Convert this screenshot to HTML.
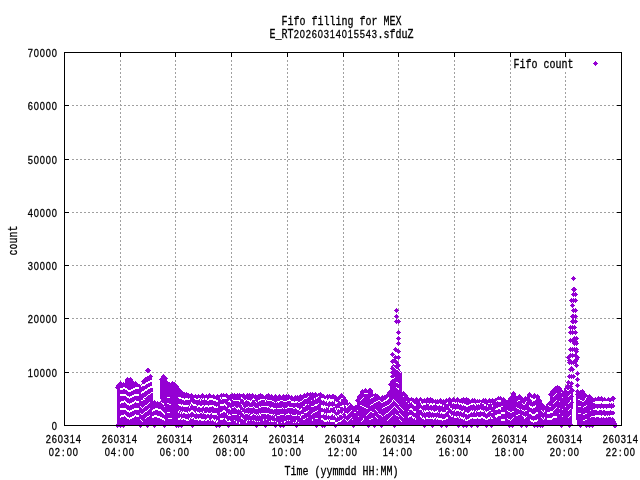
<!DOCTYPE html>
<html><head><meta charset="utf-8"><title>Fifo filling for MEX</title>
<style>html,body{margin:0;padding:0;background:#fff;overflow:hidden}svg{display:block}text{font-size:10px;fill:#000;stroke:#000;stroke-width:.25px}.m{font-family:"Liberation Mono","DejaVu Sans Mono",monospace}.s{font-family:"Liberation Sans","DejaVu Sans",sans-serif;font-size:9.3px}</style>
</head><body>
<svg width="640" height="480" viewBox="0 0 640 480">
<rect width="640" height="480" fill="#fff"/>
<g stroke="#a0a0a0" stroke-width="1" stroke-dasharray="2,2" shape-rendering="crispEdges" fill="none">
<path d="M120.5 60V421"/>
<path d="M175.5 60V421"/>
<path d="M231.5 60V421"/>
<path d="M287.5 60V421"/>
<path d="M343.5 60V421"/>
<path d="M398.5 60V421"/>
<path d="M454.5 60V421"/>
<path d="M510.5 60V421"/>
<path d="M565.5 60V421"/>
<path d="M72 372.5H617"/>
<path d="M72 318.5H617"/>
<path d="M72 265.5H617"/>
<path d="M72 212.5H617"/>
<path d="M72 159.5H617"/>
<path d="M72 105.5H617"/>
</g>
<g stroke="#000" stroke-width="1" shape-rendering="crispEdges" fill="none">
<path d="M120.5 53v4M120.5 425v-4M175.5 53v4M175.5 425v-4M231.5 53v4M231.5 425v-4M287.5 53v4M287.5 425v-4M343.5 53v4M343.5 425v-4M398.5 53v4M398.5 425v-4M454.5 53v4M454.5 425v-4M510.5 53v4M510.5 425v-4M565.5 53v4M565.5 425v-4M65 372.5h4M621 372.5h-4M65 318.5h4M621 318.5h-4M65 265.5h4M621 265.5h-4M65 212.5h4M621 212.5h-4M65 159.5h4M621 159.5h-4M65 105.5h4M621 105.5h-4"/>
</g>
<path fill="#9400d3" shape-rendering="crispEdges" d="M117.5 385l2.5 2.5l-2.5 2.5l-2.5-2.5zM118.5 383l2.5 2.5l-2.5 2.5l-2.5-2.5zM120.5 381l2.5 2.5l-2.5 2.5l-2.5-2.5zM123.5 382l2.5 2.5l-2.5 2.5l-2.5-2.5zM127.5 377l2.5 2.5l-2.5 2.5l-2.5-2.5zM130.5 377l2.5 2.5l-2.5 2.5l-2.5-2.5zM133.5 381l2.5 2.5l-2.5 2.5l-2.5-2.5zM135.5 381l2.5 2.5l-2.5 2.5l-2.5-2.5zM137.5 383l2.5 2.5l-2.5 2.5l-2.5-2.5zM139.5 384l2.5 2.5l-2.5 2.5l-2.5-2.5zM141.5 384l2.5 2.5l-2.5 2.5l-2.5-2.5zM143.5 379l2.5 2.5l-2.5 2.5l-2.5-2.5zM145.5 377l2.5 2.5l-2.5 2.5l-2.5-2.5zM147.5 376l2.5 2.5l-2.5 2.5l-2.5-2.5zM149.5 375l2.5 2.5l-2.5 2.5l-2.5-2.5zM150.5 374l2.5 2.5l-2.5 2.5l-2.5-2.5zM154.5 400l2.5 2.5l-2.5 2.5l-2.5-2.5zM157.5 401l2.5 2.5l-2.5 2.5l-2.5-2.5zM159.5 402l2.5 2.5l-2.5 2.5l-2.5-2.5zM161.5 377l2.5 2.5l-2.5 2.5l-2.5-2.5zM163.5 374l2.5 2.5l-2.5 2.5l-2.5-2.5zM165.5 376l2.5 2.5l-2.5 2.5l-2.5-2.5zM166.5 380l2.5 2.5l-2.5 2.5l-2.5-2.5zM168.5 383l2.5 2.5l-2.5 2.5l-2.5-2.5zM169.5 382l2.5 2.5l-2.5 2.5l-2.5-2.5zM172.5 381l2.5 2.5l-2.5 2.5l-2.5-2.5zM174.5 382l2.5 2.5l-2.5 2.5l-2.5-2.5zM176.5 384l2.5 2.5l-2.5 2.5l-2.5-2.5zM178.5 387l2.5 2.5l-2.5 2.5l-2.5-2.5zM180.5 389l2.5 2.5l-2.5 2.5l-2.5-2.5zM182.5 391l2.5 2.5l-2.5 2.5l-2.5-2.5zM184.5 392l2.5 2.5l-2.5 2.5l-2.5-2.5zM186.5 392l2.5 2.5l-2.5 2.5l-2.5-2.5zM188.5 393l2.5 2.5l-2.5 2.5l-2.5-2.5zM191.5 393l2.5 2.5l-2.5 2.5l-2.5-2.5zM195.5 394l2.5 2.5l-2.5 2.5l-2.5-2.5zM198.5 394l2.5 2.5l-2.5 2.5l-2.5-2.5zM202.5 393l2.5 2.5l-2.5 2.5l-2.5-2.5zM206.5 394l2.5 2.5l-2.5 2.5l-2.5-2.5zM209.5 393l2.5 2.5l-2.5 2.5l-2.5-2.5zM213.5 394l2.5 2.5l-2.5 2.5l-2.5-2.5zM217.5 394l2.5 2.5l-2.5 2.5l-2.5-2.5zM221.5 393l2.5 2.5l-2.5 2.5l-2.5-2.5zM223.5 393l2.5 2.5l-2.5 2.5l-2.5-2.5zM226.5 393l2.5 2.5l-2.5 2.5l-2.5-2.5zM230.5 394l2.5 2.5l-2.5 2.5l-2.5-2.5zM232.5 393l2.5 2.5l-2.5 2.5l-2.5-2.5zM234.5 393l2.5 2.5l-2.5 2.5l-2.5-2.5zM237.5 393l2.5 2.5l-2.5 2.5l-2.5-2.5zM239.5 393l2.5 2.5l-2.5 2.5l-2.5-2.5zM241.5 394l2.5 2.5l-2.5 2.5l-2.5-2.5zM243.5 393l2.5 2.5l-2.5 2.5l-2.5-2.5zM247.5 393l2.5 2.5l-2.5 2.5l-2.5-2.5zM249.5 393l2.5 2.5l-2.5 2.5l-2.5-2.5zM252.5 393l2.5 2.5l-2.5 2.5l-2.5-2.5zM255.5 394l2.5 2.5l-2.5 2.5l-2.5-2.5zM258.5 394l2.5 2.5l-2.5 2.5l-2.5-2.5zM260.5 393l2.5 2.5l-2.5 2.5l-2.5-2.5zM262.5 394l2.5 2.5l-2.5 2.5l-2.5-2.5zM266.5 394l2.5 2.5l-2.5 2.5l-2.5-2.5zM268.5 393l2.5 2.5l-2.5 2.5l-2.5-2.5zM271.5 394l2.5 2.5l-2.5 2.5l-2.5-2.5zM275.5 394l2.5 2.5l-2.5 2.5l-2.5-2.5zM279.5 394l2.5 2.5l-2.5 2.5l-2.5-2.5zM283.5 394l2.5 2.5l-2.5 2.5l-2.5-2.5zM286.5 394l2.5 2.5l-2.5 2.5l-2.5-2.5zM288.5 394l2.5 2.5l-2.5 2.5l-2.5-2.5zM291.5 395l2.5 2.5l-2.5 2.5l-2.5-2.5zM295.5 395l2.5 2.5l-2.5 2.5l-2.5-2.5zM297.5 395l2.5 2.5l-2.5 2.5l-2.5-2.5zM300.5 394l2.5 2.5l-2.5 2.5l-2.5-2.5zM304.5 393l2.5 2.5l-2.5 2.5l-2.5-2.5zM306.5 393l2.5 2.5l-2.5 2.5l-2.5-2.5zM307.5 392l2.5 2.5l-2.5 2.5l-2.5-2.5zM310.5 392l2.5 2.5l-2.5 2.5l-2.5-2.5zM312.5 392l2.5 2.5l-2.5 2.5l-2.5-2.5zM315.5 392l2.5 2.5l-2.5 2.5l-2.5-2.5zM318.5 393l2.5 2.5l-2.5 2.5l-2.5-2.5zM320.5 392l2.5 2.5l-2.5 2.5l-2.5-2.5zM323.5 394l2.5 2.5l-2.5 2.5l-2.5-2.5zM327.5 394l2.5 2.5l-2.5 2.5l-2.5-2.5zM329.5 394l2.5 2.5l-2.5 2.5l-2.5-2.5zM332.5 394l2.5 2.5l-2.5 2.5l-2.5-2.5zM333.5 394l2.5 2.5l-2.5 2.5l-2.5-2.5zM335.5 395l2.5 2.5l-2.5 2.5l-2.5-2.5zM337.5 398l2.5 2.5l-2.5 2.5l-2.5-2.5zM339.5 395l2.5 2.5l-2.5 2.5l-2.5-2.5zM341.5 393l2.5 2.5l-2.5 2.5l-2.5-2.5zM343.5 395l2.5 2.5l-2.5 2.5l-2.5-2.5zM345.5 398l2.5 2.5l-2.5 2.5l-2.5-2.5zM349.5 402l2.5 2.5l-2.5 2.5l-2.5-2.5zM352.5 405l2.5 2.5l-2.5 2.5l-2.5-2.5zM355.5 405l2.5 2.5l-2.5 2.5l-2.5-2.5zM356.5 405l2.5 2.5l-2.5 2.5l-2.5-2.5zM357.5 398l2.5 2.5l-2.5 2.5l-2.5-2.5zM359.5 394l2.5 2.5l-2.5 2.5l-2.5-2.5zM362.5 389l2.5 2.5l-2.5 2.5l-2.5-2.5zM365.5 388l2.5 2.5l-2.5 2.5l-2.5-2.5zM369.5 388l2.5 2.5l-2.5 2.5l-2.5-2.5zM370.5 388l2.5 2.5l-2.5 2.5l-2.5-2.5zM371.5 392l2.5 2.5l-2.5 2.5l-2.5-2.5zM375.5 393l2.5 2.5l-2.5 2.5l-2.5-2.5zM377.5 394l2.5 2.5l-2.5 2.5l-2.5-2.5zM381.5 396l2.5 2.5l-2.5 2.5l-2.5-2.5zM382.5 395l2.5 2.5l-2.5 2.5l-2.5-2.5zM384.5 395l2.5 2.5l-2.5 2.5l-2.5-2.5zM387.5 393l2.5 2.5l-2.5 2.5l-2.5-2.5zM389.5 390l2.5 2.5l-2.5 2.5l-2.5-2.5zM390.5 382l2.5 2.5l-2.5 2.5l-2.5-2.5zM392.5 366l2.5 2.5l-2.5 2.5l-2.5-2.5zM393.5 364l2.5 2.5l-2.5 2.5l-2.5-2.5zM395.5 365l2.5 2.5l-2.5 2.5l-2.5-2.5zM397.5 367l2.5 2.5l-2.5 2.5l-2.5-2.5zM399.5 370l2.5 2.5l-2.5 2.5l-2.5-2.5zM403.5 391l2.5 2.5l-2.5 2.5l-2.5-2.5zM405.5 393l2.5 2.5l-2.5 2.5l-2.5-2.5zM407.5 396l2.5 2.5l-2.5 2.5l-2.5-2.5zM408.5 397l2.5 2.5l-2.5 2.5l-2.5-2.5zM411.5 397l2.5 2.5l-2.5 2.5l-2.5-2.5zM413.5 398l2.5 2.5l-2.5 2.5l-2.5-2.5zM416.5 397l2.5 2.5l-2.5 2.5l-2.5-2.5zM420.5 397l2.5 2.5l-2.5 2.5l-2.5-2.5zM424.5 398l2.5 2.5l-2.5 2.5l-2.5-2.5zM427.5 397l2.5 2.5l-2.5 2.5l-2.5-2.5zM430.5 397l2.5 2.5l-2.5 2.5l-2.5-2.5zM432.5 398l2.5 2.5l-2.5 2.5l-2.5-2.5zM435.5 399l2.5 2.5l-2.5 2.5l-2.5-2.5zM437.5 399l2.5 2.5l-2.5 2.5l-2.5-2.5zM440.5 398l2.5 2.5l-2.5 2.5l-2.5-2.5zM443.5 399l2.5 2.5l-2.5 2.5l-2.5-2.5zM446.5 398l2.5 2.5l-2.5 2.5l-2.5-2.5zM448.5 398l2.5 2.5l-2.5 2.5l-2.5-2.5zM449.5 397l2.5 2.5l-2.5 2.5l-2.5-2.5zM453.5 397l2.5 2.5l-2.5 2.5l-2.5-2.5zM457.5 397l2.5 2.5l-2.5 2.5l-2.5-2.5zM461.5 398l2.5 2.5l-2.5 2.5l-2.5-2.5zM463.5 397l2.5 2.5l-2.5 2.5l-2.5-2.5zM466.5 397l2.5 2.5l-2.5 2.5l-2.5-2.5zM468.5 398l2.5 2.5l-2.5 2.5l-2.5-2.5zM472.5 398l2.5 2.5l-2.5 2.5l-2.5-2.5zM474.5 398l2.5 2.5l-2.5 2.5l-2.5-2.5zM477.5 399l2.5 2.5l-2.5 2.5l-2.5-2.5zM479.5 399l2.5 2.5l-2.5 2.5l-2.5-2.5zM483.5 398l2.5 2.5l-2.5 2.5l-2.5-2.5zM485.5 398l2.5 2.5l-2.5 2.5l-2.5-2.5zM489.5 398l2.5 2.5l-2.5 2.5l-2.5-2.5zM492.5 398l2.5 2.5l-2.5 2.5l-2.5-2.5zM495.5 398l2.5 2.5l-2.5 2.5l-2.5-2.5zM496.5 398l2.5 2.5l-2.5 2.5l-2.5-2.5zM498.5 396l2.5 2.5l-2.5 2.5l-2.5-2.5zM500.5 396l2.5 2.5l-2.5 2.5l-2.5-2.5zM503.5 397l2.5 2.5l-2.5 2.5l-2.5-2.5zM505.5 399l2.5 2.5l-2.5 2.5l-2.5-2.5zM507.5 401l2.5 2.5l-2.5 2.5l-2.5-2.5zM509.5 398l2.5 2.5l-2.5 2.5l-2.5-2.5zM510.5 396l2.5 2.5l-2.5 2.5l-2.5-2.5zM513.5 391l2.5 2.5l-2.5 2.5l-2.5-2.5zM516.5 396l2.5 2.5l-2.5 2.5l-2.5-2.5zM518.5 395l2.5 2.5l-2.5 2.5l-2.5-2.5zM519.5 394l2.5 2.5l-2.5 2.5l-2.5-2.5zM521.5 396l2.5 2.5l-2.5 2.5l-2.5-2.5zM522.5 397l2.5 2.5l-2.5 2.5l-2.5-2.5zM525.5 396l2.5 2.5l-2.5 2.5l-2.5-2.5zM529.5 392l2.5 2.5l-2.5 2.5l-2.5-2.5zM531.5 394l2.5 2.5l-2.5 2.5l-2.5-2.5zM534.5 393l2.5 2.5l-2.5 2.5l-2.5-2.5zM537.5 394l2.5 2.5l-2.5 2.5l-2.5-2.5zM539.5 398l2.5 2.5l-2.5 2.5l-2.5-2.5zM541.5 402l2.5 2.5l-2.5 2.5l-2.5-2.5zM544.5 405l2.5 2.5l-2.5 2.5l-2.5-2.5zM546.5 405l2.5 2.5l-2.5 2.5l-2.5-2.5zM548.5 402l2.5 2.5l-2.5 2.5l-2.5-2.5zM550.5 392l2.5 2.5l-2.5 2.5l-2.5-2.5zM552.5 389l2.5 2.5l-2.5 2.5l-2.5-2.5zM555.5 386l2.5 2.5l-2.5 2.5l-2.5-2.5zM557.5 385l2.5 2.5l-2.5 2.5l-2.5-2.5zM559.5 386l2.5 2.5l-2.5 2.5l-2.5-2.5zM560.5 388l2.5 2.5l-2.5 2.5l-2.5-2.5zM561.5 393l2.5 2.5l-2.5 2.5l-2.5-2.5zM563.5 391l2.5 2.5l-2.5 2.5l-2.5-2.5zM564.5 390l2.5 2.5l-2.5 2.5l-2.5-2.5zM566.5 386l2.5 2.5l-2.5 2.5l-2.5-2.5zM567.5 384l2.5 2.5l-2.5 2.5l-2.5-2.5zM570.5 384l2.5 2.5l-2.5 2.5l-2.5-2.5zM571.5 388l2.5 2.5l-2.5 2.5l-2.5-2.5zM577.5 392l2.5 2.5l-2.5 2.5l-2.5-2.5zM578.5 392l2.5 2.5l-2.5 2.5l-2.5-2.5zM580.5 390l2.5 2.5l-2.5 2.5l-2.5-2.5zM582.5 389l2.5 2.5l-2.5 2.5l-2.5-2.5zM585.5 393l2.5 2.5l-2.5 2.5l-2.5-2.5zM588.5 395l2.5 2.5l-2.5 2.5l-2.5-2.5zM589.5 394l2.5 2.5l-2.5 2.5l-2.5-2.5zM591.5 396l2.5 2.5l-2.5 2.5l-2.5-2.5zM595.5 397l2.5 2.5l-2.5 2.5l-2.5-2.5zM598.5 396l2.5 2.5l-2.5 2.5l-2.5-2.5zM601.5 396l2.5 2.5l-2.5 2.5l-2.5-2.5zM604.5 397l2.5 2.5l-2.5 2.5l-2.5-2.5zM608.5 397l2.5 2.5l-2.5 2.5l-2.5-2.5zM612.5 396l2.5 2.5l-2.5 2.5l-2.5-2.5zM613.5 396l2.5 2.5l-2.5 2.5l-2.5-2.5zM117 385h1V426h-1zM118 383h1V426h-1zM119 383h1V426h-1zM120 383h1V426h-1zM121 383h1V426h-1zM122 383h1V426h-1zM123 384h1V426h-1zM124 384h1V426h-1zM125 379h1V426h-1zM126 379h1V426h-1zM127 379h1V426h-1zM128 379h1V426h-1zM129 379h1V426h-1zM130 379h1V426h-1zM131 379h1V426h-1zM132 379h1V426h-1zM133 383h1V426h-1zM134 383h1V426h-1zM135 383h1V426h-1zM136 383h1V426h-1zM137 383h1V426h-1zM138 385h1V426h-1zM139 385h1V426h-1zM140 386h1V426h-1zM141 386h1V426h-1zM142 381h1V426h-1zM143 379h1V426h-1zM144 379h1V426h-1zM145 378h1V426h-1zM146 378h1V426h-1zM147 377h1V426h-1zM148 376h1V426h-1zM149 376h1V426h-1zM150 376h1V426h-1zM151 376h1V426h-1zM152 388h1V426h-1zM153 402h1V426h-1zM154 402h1V426h-1zM155 402h1V426h-1zM156 402h1V426h-1zM157 403h1V426h-1zM158 403h1V426h-1zM159 403h1V426h-1zM160 379h1V426h-1zM161 376h1V426h-1zM162 376h1V426h-1zM163 376h1V426h-1zM164 376h1V426h-1zM165 376h1V426h-1zM166 378h1V426h-1zM167 382h1V426h-1zM168 382h1V426h-1zM169 384h1V426h-1zM170 383h1V426h-1zM171 383h1V426h-1zM172 383h1V426h-1zM173 383h1V426h-1zM174 383h1V426h-1zM175 384h1V426h-1zM176 384h1V426h-1zM177 386h1V426h-1zM178 386h1V426h-1zM179 389h1V426h-1zM180 389h1V426h-1zM181 391h1V426h-1zM182 391h1V426h-1zM183 393h1V426h-1zM184 393h1V426h-1zM185 394h1V426h-1zM186 394h1V426h-1zM187 394h1V426h-1zM188 394h1V426h-1zM189 395h1V426h-1zM190 395h1V426h-1zM191 395h1V426h-1zM192 395h1V426h-1zM193 395h1V426h-1zM194 396h1V426h-1zM195 396h1V426h-1zM196 396h1V426h-1zM197 396h1V426h-1zM198 396h1V426h-1zM199 396h1V426h-1zM200 395h1V426h-1zM201 395h1V426h-1zM202 395h1V426h-1zM203 395h1V426h-1zM204 395h1V426h-1zM205 396h1V426h-1zM206 396h1V426h-1zM207 395h1V426h-1zM208 395h1V426h-1zM209 395h1V426h-1zM210 395h1V426h-1zM211 395h1V426h-1zM212 396h1V426h-1zM213 396h1V426h-1zM214 396h1V426h-1zM215 396h1V426h-1zM216 396h1V426h-1zM217 396h1V426h-1zM218 396h1V426h-1zM219 395h1V426h-1zM220 395h1V426h-1zM221 395h1V426h-1zM222 395h1V426h-1zM223 395h1V426h-1zM224 395h1V426h-1zM225 395h1V426h-1zM226 395h1V426h-1zM227 395h1V426h-1zM228 395h1V426h-1zM229 396h1V426h-1zM230 395h1V426h-1zM231 395h1V426h-1zM232 395h1V426h-1zM233 395h1V426h-1zM234 395h1V426h-1zM235 395h1V426h-1zM236 395h1V426h-1zM237 395h1V426h-1zM238 395h1V426h-1zM239 395h1V426h-1zM240 395h1V426h-1zM241 395h1V426h-1zM242 395h1V426h-1zM243 395h1V426h-1zM244 395h1V426h-1zM245 395h1V426h-1zM246 395h1V426h-1zM247 395h1V426h-1zM248 395h1V426h-1zM249 395h1V426h-1zM250 395h1V426h-1zM251 395h1V426h-1zM252 395h1V426h-1zM253 395h1V426h-1zM254 395h1V426h-1zM255 396h1V426h-1zM256 396h1V426h-1zM257 396h1V426h-1zM258 395h1V426h-1zM259 395h1V426h-1zM260 395h1V426h-1zM261 395h1V426h-1zM262 395h1V426h-1zM263 396h1V426h-1zM264 396h1V426h-1zM265 396h1V426h-1zM266 395h1V426h-1zM267 395h1V426h-1zM268 395h1V426h-1zM269 395h1V426h-1zM270 395h1V426h-1zM271 396h1V426h-1zM272 396h1V426h-1zM273 396h1V426h-1zM274 396h1V426h-1zM275 396h1V426h-1zM276 396h1V426h-1zM277 396h1V426h-1zM278 396h1V426h-1zM279 396h1V426h-1zM280 396h1V426h-1zM281 396h1V426h-1zM282 396h1V426h-1zM283 396h1V426h-1zM284 396h1V426h-1zM285 396h1V426h-1zM286 396h1V426h-1zM287 396h1V426h-1zM288 396h1V426h-1zM289 396h1V426h-1zM290 396h1V426h-1zM291 397h1V426h-1zM292 397h1V426h-1zM293 397h1V426h-1zM294 397h1V426h-1zM295 397h1V426h-1zM296 397h1V426h-1zM297 397h1V426h-1zM298 396h1V426h-1zM299 396h1V426h-1zM300 396h1V426h-1zM301 396h1V426h-1zM302 395h1V426h-1zM303 395h1V426h-1zM304 395h1V426h-1zM305 394h1V426h-1zM306 394h1V426h-1zM307 394h1V426h-1zM308 394h1V426h-1zM309 394h1V426h-1zM310 394h1V426h-1zM311 394h1V426h-1zM312 394h1V426h-1zM313 394h1V426h-1zM314 394h1V426h-1zM315 394h1V426h-1zM316 394h1V426h-1zM317 394h1V426h-1zM318 394h1V426h-1zM319 394h1V426h-1zM320 394h1V426h-1zM321 394h1V426h-1zM322 394h1V426h-1zM323 396h1V426h-1zM324 396h1V426h-1zM325 396h1V426h-1zM326 396h1V426h-1zM327 396h1V426h-1zM328 396h1V426h-1zM329 396h1V426h-1zM330 396h1V426h-1zM331 396h1V426h-1zM332 396h1V426h-1zM333 396h1V426h-1zM334 396h1V426h-1zM335 396h1V426h-1zM336 397h1V426h-1zM337 397h1V426h-1zM338 397h1V426h-1zM339 395h1V426h-1zM340 395h1V426h-1zM341 395h1V426h-1zM342 395h1V426h-1zM343 395h1V426h-1zM344 397h1V426h-1zM345 397h1V426h-1zM346 400h1V426h-1zM347 400h1V426h-1zM348 404h1V426h-1zM349 404h1V426h-1zM350 404h1V426h-1zM351 404h1V426h-1zM352 407h1V426h-1zM353 407h1V426h-1zM354 407h1V426h-1zM355 407h1V426h-1zM356 407h1V426h-1zM357 396h1V426h-1zM358 396h1V426h-1zM359 396h1V426h-1zM360 391h1V426h-1zM361 391h1V426h-1zM362 391h1V426h-1zM363 390h1V426h-1zM364 390h1V426h-1zM365 390h1V426h-1zM366 390h1V426h-1zM367 390h1V426h-1zM368 390h1V426h-1zM369 390h1V426h-1zM370 390h1V426h-1zM371 390h1V426h-1zM372 390h1V426h-1zM373 394h1V426h-1zM374 395h1V426h-1zM375 395h1V426h-1zM376 395h1V426h-1zM377 395h1V426h-1zM378 396h1V426h-1zM379 396h1V426h-1zM380 397h1V426h-1zM381 397h1V426h-1zM382 397h1V426h-1zM383 397h1V426h-1zM384 397h1V426h-1zM385 395h1V426h-1zM386 395h1V426h-1zM387 392h1V426h-1zM388 392h1V426h-1zM389 392h1V426h-1zM390 384h1V426h-1zM391 382h1V426h-1zM392 366h1V426h-1zM393 366h1V426h-1zM394 366h1V426h-1zM395 366h1V426h-1zM396 367h1V426h-1zM397 367h1V426h-1zM398 369h1V426h-1zM399 369h1V426h-1zM400 372h1V426h-1zM401 372h1V426h-1zM402 393h1V426h-1zM403 393h1V426h-1zM404 393h1V426h-1zM405 393h1V426h-1zM406 395h1V426h-1zM407 395h1V426h-1zM408 398h1V426h-1zM409 398h1V426h-1zM410 399h1V426h-1zM411 399h1V426h-1zM412 399h1V426h-1zM413 399h1V426h-1zM414 399h1V426h-1zM415 399h1V426h-1zM416 399h1V426h-1zM417 399h1V426h-1zM418 399h1V426h-1zM419 399h1V426h-1zM420 399h1V426h-1zM421 399h1V426h-1zM422 399h1V426h-1zM423 400h1V426h-1zM424 400h1V426h-1zM425 399h1V426h-1zM426 399h1V426h-1zM427 399h1V426h-1zM428 399h1V426h-1zM429 399h1V426h-1zM430 399h1V426h-1zM431 399h1V426h-1zM432 399h1V426h-1zM433 400h1V426h-1zM434 400h1V426h-1zM435 401h1V426h-1zM436 401h1V426h-1zM437 401h1V426h-1zM438 400h1V426h-1zM439 400h1V426h-1zM440 400h1V426h-1zM441 400h1V426h-1zM442 400h1V426h-1zM443 401h1V426h-1zM444 400h1V426h-1zM445 400h1V426h-1zM446 400h1V426h-1zM447 399h1V426h-1zM448 399h1V426h-1zM449 399h1V426h-1zM450 399h1V426h-1zM451 399h1V426h-1zM452 399h1V426h-1zM453 399h1V426h-1zM454 399h1V426h-1zM455 399h1V426h-1zM456 399h1V426h-1zM457 399h1V426h-1zM458 399h1V426h-1zM459 399h1V426h-1zM460 400h1V426h-1zM461 399h1V426h-1zM462 399h1V426h-1zM463 399h1V426h-1zM464 399h1V426h-1zM465 399h1V426h-1zM466 399h1V426h-1zM467 399h1V426h-1zM468 399h1V426h-1zM469 400h1V426h-1zM470 400h1V426h-1zM471 400h1V426h-1zM472 400h1V426h-1zM473 400h1V426h-1zM474 400h1V426h-1zM475 400h1V426h-1zM476 400h1V426h-1zM477 401h1V426h-1zM478 401h1V426h-1zM479 401h1V426h-1zM480 401h1V426h-1zM481 400h1V426h-1zM482 400h1V426h-1zM483 400h1V426h-1zM484 400h1V426h-1zM485 400h1V426h-1zM486 400h1V426h-1zM487 400h1V426h-1zM488 400h1V426h-1zM489 400h1V426h-1zM490 400h1V426h-1zM491 400h1V426h-1zM492 400h1V426h-1zM493 400h1V426h-1zM494 400h1V426h-1zM495 400h1V426h-1zM496 398h1V426h-1zM497 398h1V426h-1zM498 398h1V426h-1zM499 398h1V426h-1zM500 398h1V426h-1zM501 398h1V426h-1zM502 398h1V426h-1zM503 399h1V426h-1zM504 399h1V426h-1zM505 399h1V426h-1zM506 401h1V426h-1zM507 400h1V426h-1zM508 398h1V426h-1zM509 398h1V426h-1zM510 398h1V426h-1zM511 393h1V426h-1zM512 393h1V426h-1zM513 393h1V426h-1zM514 393h1V426h-1zM515 393h1V426h-1zM516 397h1V426h-1zM517 396h1V426h-1zM518 396h1V426h-1zM519 396h1V426h-1zM520 396h1V426h-1zM521 396h1V426h-1zM522 398h1V426h-1zM523 398h1V426h-1zM524 398h1V426h-1zM525 398h1V426h-1zM526 398h1V426h-1zM527 394h1V426h-1zM528 394h1V426h-1zM529 394h1V426h-1zM530 394h1V426h-1zM531 394h1V426h-1zM532 395h1V426h-1zM533 395h1V426h-1zM534 395h1V426h-1zM535 395h1V426h-1zM536 395h1V426h-1zM537 396h1V426h-1zM538 396h1V426h-1zM539 396h1V426h-1zM540 400h1V426h-1zM541 400h1V426h-1zM542 404h1V426h-1zM543 404h1V426h-1zM544 407h1V426h-1zM545 407h1V426h-1zM546 404h1V426h-1zM547 404h1V426h-1zM548 404h1V426h-1zM549 401h1V426h-1zM550 391h1V426h-1zM551 391h1V426h-1zM552 391h1V426h-1zM553 388h1V426h-1zM554 388h1V426h-1zM555 387h1V426h-1zM556 387h1V426h-1zM557 387h1V426h-1zM558 387h1V426h-1zM559 387h1V426h-1zM560 388h1V426h-1zM561 393h1V426h-1zM562 390h1V426h-1zM563 392h1V426h-1zM564 388h1V426h-1zM565 386h1V426h-1zM566 386h1V426h-1zM567 386h1V426h-1zM568 386h1V426h-1zM569 386h1V426h-1zM570 386h1V426h-1zM571 386h1V426h-1zM572 390h1V426h-1zM576 394h1V426h-1zM577 394h1V426h-1zM578 392h1V426h-1zM579 392h1V426h-1zM580 391h1V426h-1zM581 391h1V426h-1zM582 391h1V426h-1zM583 391h1V426h-1zM584 391h1V426h-1zM585 395h1V426h-1zM586 395h1V426h-1zM587 395h1V426h-1zM588 396h1V426h-1zM589 396h1V426h-1zM590 396h1V426h-1zM591 396h1V426h-1zM592 398h1V426h-1zM593 398h1V426h-1zM594 399h1V426h-1zM595 399h1V426h-1zM596 398h1V426h-1zM597 398h1V426h-1zM598 398h1V426h-1zM599 398h1V426h-1zM600 398h1V426h-1zM601 398h1V426h-1zM602 398h1V426h-1zM603 398h1V426h-1zM604 399h1V426h-1zM605 399h1V426h-1zM606 399h1V426h-1zM607 399h1V426h-1zM608 399h1V426h-1zM609 399h1V426h-1zM610 398h1V426h-1zM611 398h1V426h-1zM612 398h1V426h-1zM613 398h1V426h-1zM147.5 368l2.5 2.5l-2.5 2.5l-2.5-2.5zM148.5 368l2.5 2.5l-2.5 2.5l-2.5-2.5zM396.5 308l2.5 2.5l-2.5 2.5l-2.5-2.5zM396.5 314l2.5 2.5l-2.5 2.5l-2.5-2.5zM396.5 319l2.5 2.5l-2.5 2.5l-2.5-2.5zM398.5 319l2.5 2.5l-2.5 2.5l-2.5-2.5zM398.5 330l2.5 2.5l-2.5 2.5l-2.5-2.5zM398.5 336l2.5 2.5l-2.5 2.5l-2.5-2.5zM398.5 341l2.5 2.5l-2.5 2.5l-2.5-2.5zM395.5 347l2.5 2.5l-2.5 2.5l-2.5-2.5zM398.5 349l2.5 2.5l-2.5 2.5l-2.5-2.5zM392.5 352l2.5 2.5l-2.5 2.5l-2.5-2.5zM395.5 355l2.5 2.5l-2.5 2.5l-2.5-2.5zM398.5 355l2.5 2.5l-2.5 2.5l-2.5-2.5zM392.5 359l2.5 2.5l-2.5 2.5l-2.5-2.5zM394.5 358l2.5 2.5l-2.5 2.5l-2.5-2.5zM396.5 360l2.5 2.5l-2.5 2.5l-2.5-2.5zM398.5 363l2.5 2.5l-2.5 2.5l-2.5-2.5zM392.5 366l2.5 2.5l-2.5 2.5l-2.5-2.5zM394.5 365l2.5 2.5l-2.5 2.5l-2.5-2.5zM573.5 276l2.5 2.5l-2.5 2.5l-2.5-2.5zM573.5 287l2.5 2.5l-2.5 2.5l-2.5-2.5zM574.5 287l2.5 2.5l-2.5 2.5l-2.5-2.5zM573.5 292l2.5 2.5l-2.5 2.5l-2.5-2.5zM575.5 292l2.5 2.5l-2.5 2.5l-2.5-2.5zM571.5 298l2.5 2.5l-2.5 2.5l-2.5-2.5zM573.5 298l2.5 2.5l-2.5 2.5l-2.5-2.5zM575.5 298l2.5 2.5l-2.5 2.5l-2.5-2.5zM572.5 303l2.5 2.5l-2.5 2.5l-2.5-2.5zM573.5 308l2.5 2.5l-2.5 2.5l-2.5-2.5zM575.5 308l2.5 2.5l-2.5 2.5l-2.5-2.5zM572.5 314l2.5 2.5l-2.5 2.5l-2.5-2.5zM573.5 314l2.5 2.5l-2.5 2.5l-2.5-2.5zM575.5 314l2.5 2.5l-2.5 2.5l-2.5-2.5zM572.5 319l2.5 2.5l-2.5 2.5l-2.5-2.5zM575.5 319l2.5 2.5l-2.5 2.5l-2.5-2.5zM573.5 319l2.5 2.5l-2.5 2.5l-2.5-2.5zM570.5 325l2.5 2.5l-2.5 2.5l-2.5-2.5zM572.5 325l2.5 2.5l-2.5 2.5l-2.5-2.5zM574.5 325l2.5 2.5l-2.5 2.5l-2.5-2.5zM570.5 330l2.5 2.5l-2.5 2.5l-2.5-2.5zM572.5 330l2.5 2.5l-2.5 2.5l-2.5-2.5zM575.5 330l2.5 2.5l-2.5 2.5l-2.5-2.5zM570.5 338l2.5 2.5l-2.5 2.5l-2.5-2.5zM572.5 338l2.5 2.5l-2.5 2.5l-2.5-2.5zM574.5 336l2.5 2.5l-2.5 2.5l-2.5-2.5zM576.5 336l2.5 2.5l-2.5 2.5l-2.5-2.5zM574.5 338l2.5 2.5l-2.5 2.5l-2.5-2.5zM575.5 339l2.5 2.5l-2.5 2.5l-2.5-2.5zM574.5 341l2.5 2.5l-2.5 2.5l-2.5-2.5zM576.5 341l2.5 2.5l-2.5 2.5l-2.5-2.5zM570.5 347l2.5 2.5l-2.5 2.5l-2.5-2.5zM572.5 347l2.5 2.5l-2.5 2.5l-2.5-2.5zM574.5 347l2.5 2.5l-2.5 2.5l-2.5-2.5zM576.5 347l2.5 2.5l-2.5 2.5l-2.5-2.5zM576.5 349l2.5 2.5l-2.5 2.5l-2.5-2.5zM570.5 353l2.5 2.5l-2.5 2.5l-2.5-2.5zM572.5 353l2.5 2.5l-2.5 2.5l-2.5-2.5zM568.5 355l2.5 2.5l-2.5 2.5l-2.5-2.5zM577.5 355l2.5 2.5l-2.5 2.5l-2.5-2.5zM575.5 353l2.5 2.5l-2.5 2.5l-2.5-2.5zM576.5 357l2.5 2.5l-2.5 2.5l-2.5-2.5zM569.5 358l2.5 2.5l-2.5 2.5l-2.5-2.5zM569.5 360l2.5 2.5l-2.5 2.5l-2.5-2.5zM571.5 360l2.5 2.5l-2.5 2.5l-2.5-2.5zM573.5 360l2.5 2.5l-2.5 2.5l-2.5-2.5zM575.5 359l2.5 2.5l-2.5 2.5l-2.5-2.5zM576.5 363l2.5 2.5l-2.5 2.5l-2.5-2.5zM571.5 366l2.5 2.5l-2.5 2.5l-2.5-2.5zM570.5 367l2.5 2.5l-2.5 2.5l-2.5-2.5zM572.5 367l2.5 2.5l-2.5 2.5l-2.5-2.5zM577.5 371l2.5 2.5l-2.5 2.5l-2.5-2.5zM569.5 374l2.5 2.5l-2.5 2.5l-2.5-2.5zM571.5 374l2.5 2.5l-2.5 2.5l-2.5-2.5zM573.5 374l2.5 2.5l-2.5 2.5l-2.5-2.5zM577.5 377l2.5 2.5l-2.5 2.5l-2.5-2.5zM568.5 380l2.5 2.5l-2.5 2.5l-2.5-2.5zM571.5 381l2.5 2.5l-2.5 2.5l-2.5-2.5zM577.5 383l2.5 2.5l-2.5 2.5l-2.5-2.5zM568.5 385l2.5 2.5l-2.5 2.5l-2.5-2.5zM570.5 386l2.5 2.5l-2.5 2.5l-2.5-2.5zM572.5 388l2.5 2.5l-2.5 2.5l-2.5-2.5zM577.5 389l2.5 2.5l-2.5 2.5l-2.5-2.5zM577.5 392l2.5 2.5l-2.5 2.5l-2.5-2.5zM571.5 394l2.5 2.5l-2.5 2.5l-2.5-2.5zM571.5 400l2.5 2.5l-2.5 2.5l-2.5-2.5zM570.5 405l2.5 2.5l-2.5 2.5l-2.5-2.5zM392.5 370l2.5 2.5l-2.5 2.5l-2.5-2.5zM392.5 374l2.5 2.5l-2.5 2.5l-2.5-2.5zM392.5 379l2.5 2.5l-2.5 2.5l-2.5-2.5zM613.5 403l2.5 2.5l-2.5 2.5l-2.5-2.5zM613.5 410l2.5 2.5l-2.5 2.5l-2.5-2.5zM613.5 417l2.5 2.5l-2.5 2.5l-2.5-2.5zM613.5 419l2.5 2.5l-2.5 2.5l-2.5-2.5zM614.5 421l2.5 2.5l-2.5 2.5l-2.5-2.5zM615.5 423l2.5 2.5l-2.5 2.5l-2.5-2.5zM117.5 423l2.5 2.5l-2.5 2.5l-2.5-2.5zM120.5 423l2.5 2.5l-2.5 2.5l-2.5-2.5zM123.5 423l2.5 2.5l-2.5 2.5l-2.5-2.5zM140.5 423l2.5 2.5l-2.5 2.5l-2.5-2.5zM147.5 423l2.5 2.5l-2.5 2.5l-2.5-2.5zM154.5 423l2.5 2.5l-2.5 2.5l-2.5-2.5zM164.5 423l2.5 2.5l-2.5 2.5l-2.5-2.5zM176.5 423l2.5 2.5l-2.5 2.5l-2.5-2.5zM178.5 423l2.5 2.5l-2.5 2.5l-2.5-2.5zM181.5 423l2.5 2.5l-2.5 2.5l-2.5-2.5zM192.5 423l2.5 2.5l-2.5 2.5l-2.5-2.5zM216.5 423l2.5 2.5l-2.5 2.5l-2.5-2.5zM219.5 423l2.5 2.5l-2.5 2.5l-2.5-2.5zM228.5 423l2.5 2.5l-2.5 2.5l-2.5-2.5zM256.5 423l2.5 2.5l-2.5 2.5l-2.5-2.5zM265.5 423l2.5 2.5l-2.5 2.5l-2.5-2.5zM275.5 423l2.5 2.5l-2.5 2.5l-2.5-2.5zM280.5 423l2.5 2.5l-2.5 2.5l-2.5-2.5zM283.5 423l2.5 2.5l-2.5 2.5l-2.5-2.5zM296.5 423l2.5 2.5l-2.5 2.5l-2.5-2.5zM316.5 423l2.5 2.5l-2.5 2.5l-2.5-2.5zM322.5 423l2.5 2.5l-2.5 2.5l-2.5-2.5zM324.5 423l2.5 2.5l-2.5 2.5l-2.5-2.5zM335.5 423l2.5 2.5l-2.5 2.5l-2.5-2.5zM353.5 423l2.5 2.5l-2.5 2.5l-2.5-2.5zM368.5 423l2.5 2.5l-2.5 2.5l-2.5-2.5zM374.5 423l2.5 2.5l-2.5 2.5l-2.5-2.5zM381.5 423l2.5 2.5l-2.5 2.5l-2.5-2.5zM394.5 423l2.5 2.5l-2.5 2.5l-2.5-2.5zM424.5 423l2.5 2.5l-2.5 2.5l-2.5-2.5zM432.5 423l2.5 2.5l-2.5 2.5l-2.5-2.5zM441.5 423l2.5 2.5l-2.5 2.5l-2.5-2.5zM446.5 423l2.5 2.5l-2.5 2.5l-2.5-2.5zM458.5 423l2.5 2.5l-2.5 2.5l-2.5-2.5zM463.5 423l2.5 2.5l-2.5 2.5l-2.5-2.5zM466.5 423l2.5 2.5l-2.5 2.5l-2.5-2.5zM471.5 423l2.5 2.5l-2.5 2.5l-2.5-2.5zM477.5 423l2.5 2.5l-2.5 2.5l-2.5-2.5zM486.5 423l2.5 2.5l-2.5 2.5l-2.5-2.5zM491.5 423l2.5 2.5l-2.5 2.5l-2.5-2.5zM509.5 423l2.5 2.5l-2.5 2.5l-2.5-2.5zM512.5 423l2.5 2.5l-2.5 2.5l-2.5-2.5zM521.5 423l2.5 2.5l-2.5 2.5l-2.5-2.5zM526.5 423l2.5 2.5l-2.5 2.5l-2.5-2.5zM534.5 423l2.5 2.5l-2.5 2.5l-2.5-2.5zM537.5 423l2.5 2.5l-2.5 2.5l-2.5-2.5zM540.5 423l2.5 2.5l-2.5 2.5l-2.5-2.5zM542.5 423l2.5 2.5l-2.5 2.5l-2.5-2.5zM561.5 423l2.5 2.5l-2.5 2.5l-2.5-2.5zM569.5 423l2.5 2.5l-2.5 2.5l-2.5-2.5zM580.5 423l2.5 2.5l-2.5 2.5l-2.5-2.5zM586.5 423l2.5 2.5l-2.5 2.5l-2.5-2.5zM589.5 423l2.5 2.5l-2.5 2.5l-2.5-2.5zM592.5 423l2.5 2.5l-2.5 2.5l-2.5-2.5zM614.5 423l2.5 2.5l-2.5 2.5l-2.5-2.5z"/>
<path fill="#fff" shape-rendering="crispEdges" d="M120 388h1v2h-1zM121 388h1v2h-1zM122 388h1v2h-1zM123 387h1v2h-1zM124 387h1v2h-1zM124 387h1v2h-1zM125 388h1v2h-1zM126 388h1v2h-1zM127 389h1v2h-1zM128 390h1v2h-1zM129 390h1v2h-1zM129 390h1v2h-1zM130 390h1v2h-1zM131 389h1v2h-1zM132 389h1v2h-1zM133 388h1v2h-1zM134 388h1v2h-1zM135 387h1v2h-1zM135 387h1v2h-1zM136 387h1v2h-1zM137 387h1v2h-1zM138 387h1v2h-1zM120 394h1v2h-1zM121 394h1v2h-1zM122 394h1v2h-1zM123 394h1v2h-1zM124 394h1v2h-1zM124 394h1v2h-1zM125 394h1v2h-1zM126 395h1v2h-1zM127 396h1v2h-1zM128 396h1v2h-1zM129 397h1v2h-1zM129 397h1v2h-1zM130 396h1v2h-1zM131 396h1v2h-1zM132 395h1v2h-1zM133 395h1v2h-1zM134 394h1v2h-1zM135 394h1v2h-1zM135 394h1v2h-1zM136 394h1v2h-1zM137 394h1v2h-1zM138 394h1v2h-1zM120 402h1v2h-1zM121 401h1v2h-1zM122 401h1v2h-1zM123 401h1v2h-1zM124 400h1v2h-1zM124 400h1v2h-1zM125 401h1v2h-1zM126 402h1v2h-1zM127 403h1v2h-1zM128 403h1v2h-1zM129 404h1v2h-1zM129 404h1v2h-1zM130 403h1v2h-1zM131 403h1v2h-1zM132 402h1v2h-1zM133 402h1v2h-1zM134 401h1v2h-1zM135 400h1v2h-1zM135 400h1v2h-1zM136 401h1v2h-1zM137 401h1v2h-1zM138 401h1v2h-1zM120 408h1v2h-1zM121 408h1v2h-1zM122 408h1v2h-1zM123 408h1v2h-1zM124 408h1v2h-1zM124 408h1v2h-1zM125 408h1v2h-1zM126 409h1v2h-1zM127 410h1v2h-1zM128 410h1v2h-1zM129 411h1v2h-1zM129 411h1v2h-1zM130 410h1v2h-1zM131 410h1v2h-1zM132 409h1v2h-1zM133 409h1v2h-1zM134 408h1v2h-1zM135 408h1v2h-1zM135 408h1v2h-1zM136 408h1v2h-1zM137 408h1v2h-1zM138 408h1v2h-1zM120 416h1v2h-1zM121 415h1v2h-1zM122 415h1v2h-1zM123 415h1v2h-1zM124 414h1v2h-1zM124 414h1v2h-1zM125 415h1v2h-1zM126 416h1v2h-1zM127 417h1v2h-1zM128 417h1v2h-1zM129 418h1v2h-1zM129 418h1v2h-1zM130 417h1v2h-1zM131 417h1v2h-1zM132 416h1v2h-1zM133 416h1v2h-1zM134 415h1v2h-1zM135 414h1v2h-1zM135 414h1v2h-1zM136 415h1v2h-1zM137 415h1v2h-1zM138 415h1v2h-1zM141 385h1v2h-1zM142 384h1v2h-1zM143 384h1v2h-1zM144 384h1v2h-1zM145 383h1v2h-1zM145 383h1v2h-1zM146 382h1v2h-1zM147 382h1v2h-1zM148 381h1v2h-1zM149 381h1v2h-1zM150 380h1v2h-1zM150 380h1v2h-1zM151 380h1v2h-1zM152 379h1v2h-1zM141 392h1v2h-1zM142 391h1v2h-1zM143 391h1v2h-1zM144 390h1v2h-1zM145 389h1v2h-1zM146 389h1v2h-1zM147 388h1v2h-1zM148 387h1v2h-1zM149 387h1v2h-1zM150 386h1v2h-1zM150 386h1v2h-1zM151 386h1v2h-1zM152 385h1v2h-1zM143 398h1v1h-1zM144 397h1v1h-1zM145 397h1v1h-1zM146 396h1v1h-1zM147 395h1v1h-1zM148 394h1v1h-1zM149 394h1v1h-1zM150 393h1v1h-1zM150 393h1v1h-1zM151 392h1v1h-1zM152 392h1v1h-1zM141 400h1v1h-1zM142 400h1v1h-1zM143 399h1v1h-1zM144 399h1v1h-1zM140 406h1v1h-1zM141 407h1v1h-1zM142 408h1v1h-1zM142 408h1v1h-1zM143 407h1v1h-1zM144 406h1v1h-1zM145 405h1v1h-1zM146 405h1v1h-1zM147 404h1v1h-1zM148 403h1v1h-1zM149 402h1v1h-1zM140 413h1v1h-1zM141 414h1v1h-1zM142 414h1v1h-1zM142 414h1v1h-1zM143 413h1v1h-1zM144 412h1v1h-1zM145 411h1v1h-1zM146 411h1v1h-1zM147 410h1v1h-1zM148 409h1v1h-1zM149 408h1v1h-1zM145 418h1v1h-1zM146 417h1v1h-1zM147 416h1v1h-1zM148 416h1v1h-1zM149 415h1v1h-1zM140 419h1v1h-1zM141 420h1v1h-1zM142 421h1v1h-1zM152 410h1v2h-1zM153 409h1v2h-1zM154 409h1v2h-1zM155 408h1v2h-1zM155 408h1v2h-1zM156 408h1v2h-1zM157 408h1v2h-1zM158 409h1v2h-1zM159 409h1v2h-1zM160 409h1v2h-1zM160 409h1v2h-1zM161 410h1v2h-1zM162 411h1v2h-1zM163 412h1v2h-1zM164 413h1v2h-1zM152 416h1v2h-1zM153 416h1v2h-1zM154 415h1v2h-1zM155 415h1v2h-1zM155 415h1v2h-1zM156 415h1v2h-1zM157 416h1v2h-1zM158 416h1v2h-1zM159 416h1v2h-1zM160 417h1v2h-1zM161 417h1v2h-1zM161 417h1v2h-1zM162 418h1v2h-1zM163 418h1v2h-1zM164 419h1v2h-1zM158 398h1v1h-1zM159 399h1v1h-1zM160 399h1v2h-1zM161 402h1v1h-1zM162 403h1v1h-1zM163 403h1v2h-1zM164 406h1v1h-1zM167 397h1v1h-1zM168 397h1v1h-1zM169 397h1v1h-1zM167 403h1v1h-1zM168 403h1v1h-1zM169 404h1v1h-1zM170 404h1v1h-1zM167 412h1v1h-1zM168 412h1v1h-1zM169 412h1v1h-1zM168 418h1v1h-1zM169 418h1v1h-1zM170 418h1v1h-1zM171 418h1v1h-1zM345 405h1v1h-1zM346 405h1v2h-1zM346 407h1v1h-1zM347 406h1v1h-1zM348 405h1v1h-1zM349 404h1v1h-1zM345 413h1v1h-1zM346 413h1v2h-1zM346 415h1v1h-1zM347 414h1v1h-1zM348 413h1v1h-1zM349 412h1v1h-1zM350 411h1v1h-1zM351 410h1v1h-1zM345 419h1v1h-1zM346 420h1v1h-1zM347 421h1v1h-1zM347 421h1v1h-1zM348 420h1v1h-1zM349 419h1v1h-1zM350 418h1v1h-1zM351 417h1v1h-1zM340 399h1v1h-1zM341 398h1v1h-1zM342 398h1v1h-1zM340 406h1v1h-1zM341 406h1v1h-1zM342 405h1v1h-1zM343 405h1v1h-1zM340 413h1v1h-1zM341 414h1v1h-1zM342 415h1v1h-1zM360 405h1v1h-1zM361 405h1v1h-1zM362 406h1v1h-1zM363 406h1v1h-1zM364 407h1v1h-1zM365 407h1v1h-1zM366 408h1v1h-1zM367 408h1v1h-1zM360 400h1v1h-1zM361 399h1v1h-1zM362 398h1v1h-1zM363 397h1v1h-1zM364 393h1v1h-1zM365 393h1v1h-1zM366 393h1v1h-1zM367 393h1v1h-1zM370 398h1v1h-1zM371 397h1v1h-1zM372 397h1v1h-1zM373 396h1v1h-1zM370 405h1v1h-1zM371 404h1v1h-1zM372 404h1v1h-1zM373 403h1v1h-1zM374 402h1v1h-1zM375 402h1v1h-1zM376 401h1v1h-1zM377 401h1v1h-1zM378 400h1v1h-1zM378 400h1v1h-1zM379 400h1v1h-1zM380 401h1v1h-1zM381 402h1v1h-1zM382 402h1v1h-1zM382 402h1v1h-1zM383 401h1v1h-1zM384 400h1v1h-1zM385 400h1v1h-1zM386 399h1v1h-1zM387 398h1v1h-1zM388 397h1v1h-1zM366 415h1v1h-1zM367 414h1v1h-1zM368 413h1v1h-1zM369 412h1v1h-1zM370 411h1v1h-1zM370 411h1v1h-1zM371 411h1v1h-1zM372 412h1v1h-1zM373 412h1v1h-1zM375 409h1v1h-1zM376 410h1v1h-1zM377 411h1v1h-1zM378 413h1v1h-1zM379 414h1v1h-1zM380 414h1v1h-1zM381 415h1v1h-1zM382 416h1v1h-1zM369 419h1v1h-1zM370 419h1v1h-1zM371 418h1v1h-1zM372 418h1v1h-1zM361 421h1v1h-1zM362 420h1v1h-1zM363 418h1v2h-1zM375 416h1v1h-1zM376 417h1v1h-1zM377 418h1v1h-1zM382 408h1v1h-1zM383 407h1v1h-1zM384 407h1v1h-1zM385 406h1v1h-1zM386 406h1v1h-1zM387 405h1v1h-1zM388 405h1v1h-1zM389 404h1v1h-1zM389 404h1v1h-1zM390 403h1v1h-1zM391 402h1v1h-1zM392 400h1v2h-1zM393 399h1v1h-1zM393 399h1v1h-1zM394 400h1v1h-1zM395 401h1v1h-1zM396 402h1v1h-1zM397 403h1v1h-1zM398 404h1v1h-1zM384 415h1v1h-1zM385 414h1v1h-1zM386 413h1v1h-1zM387 413h1v1h-1zM388 412h1v1h-1zM389 411h1v1h-1zM389 411h1v1h-1zM390 410h1v1h-1zM391 409h1v1h-1zM392 408h1v1h-1zM393 407h1v1h-1zM394 406h1v1h-1zM394 406h1v1h-1zM395 407h1v1h-1zM396 408h1v1h-1zM397 409h1v1h-1zM398 410h1v1h-1zM387 420h1v1h-1zM388 419h1v1h-1zM389 418h1v1h-1zM390 417h1v1h-1zM391 416h1v1h-1zM392 415h1v1h-1zM395 414h1v1h-1zM396 415h1v1h-1zM397 415h1v1h-1zM398 416h1v1h-1zM384 401h1v1h-1zM385 400h1v1h-1zM386 400h1v1h-1zM387 399h1v1h-1zM388 398h1v1h-1zM399 406h1v1h-1zM400 407h1v1h-1zM401 408h1v1h-1zM402 409h1v1h-1zM403 410h1v1h-1zM399 413h1v1h-1zM400 414h1v1h-1zM401 415h1v1h-1zM402 416h1v1h-1zM403 417h1v1h-1zM399 419h1v1h-1zM400 420h1v1h-1zM401 421h1v1h-1zM396 387h1v1h-1zM397 388h1v1h-1zM398 388h1v2h-1zM393 366h1v1h-1zM394 367h1v1h-1zM395 368h1v1h-1zM396 369h1v1h-1zM397 369h1v1h-1zM398 370h1v1h-1zM399 371h1v1h-1zM400 372h1v1h-1zM392 378h1v1h-1zM393 378h1v1h-1zM394 377h1v1h-1zM396 382h1v1h-1zM397 382h1v1h-1zM398 383h1v1h-1zM403 396h1v1h-1zM406 401h1v1h-1zM357 410h1v1h-1zM354 412h1v1h-1zM355 412h1v1h-1zM358 416h1v1h-1zM352 419h1v1h-1zM496 401h1v1h-1zM497 400h1v1h-1zM498 400h1v1h-1zM496 409h1v1h-1zM497 408h1v1h-1zM498 408h1v1h-1zM499 407h1v1h-1zM499 407h1v1h-1zM500 407h1v1h-1zM501 406h1v1h-1zM502 406h1v1h-1zM496 417h1v1h-1zM497 416h1v1h-1zM498 415h1v1h-1zM501 412h1v2h-1zM502 412h1v2h-1zM503 412h1v2h-1zM504 412h1v2h-1zM501 419h1v2h-1zM502 419h1v2h-1zM503 419h1v2h-1zM504 419h1v2h-1zM507 410h1v1h-1zM508 411h1v1h-1zM509 411h1v1h-1zM510 412h1v1h-1zM510 412h1v1h-1zM511 412h1v1h-1zM512 411h1v1h-1zM513 411h1v1h-1zM507 418h1v1h-1zM508 419h1v1h-1zM509 419h1v1h-1zM510 420h1v1h-1zM510 420h1v1h-1zM511 419h1v1h-1zM512 418h1v1h-1zM513 417h1v1h-1zM517 401h1v1h-1zM518 400h1v1h-1zM519 400h1v1h-1zM516 407h1v1h-1zM517 408h1v1h-1zM518 408h1v1h-1zM519 409h1v1h-1zM522 403h1v1h-1zM523 404h1v1h-1zM524 404h1v1h-1zM524 404h1v1h-1zM525 402h1v2h-1zM526 401h1v1h-1zM521 409h1v1h-1zM522 410h1v1h-1zM523 410h1v1h-1zM524 411h1v1h-1zM524 411h1v1h-1zM525 410h1v1h-1zM526 410h1v1h-1zM516 415h1v1h-1zM517 415h1v1h-1zM518 414h1v1h-1zM519 414h1v1h-1zM522 415h1v1h-1zM523 416h1v1h-1zM524 416h1v2h-1zM524 418h1v1h-1zM525 417h1v1h-1zM526 416h1v1h-1zM530 397h1v2h-1zM531 398h1v2h-1zM532 398h1v3h-1zM532 400h1v2h-1zM533 399h1v2h-1zM534 399h1v2h-1zM535 398h1v2h-1zM529 405h1v2h-1zM530 406h1v2h-1zM531 406h1v2h-1zM532 407h1v2h-1zM532 407h1v2h-1zM533 406h1v2h-1zM534 406h1v2h-1zM535 405h1v2h-1zM529 412h1v2h-1zM530 412h1v2h-1zM531 413h1v2h-1zM532 414h1v2h-1zM533 414h1v2h-1zM533 414h1v2h-1zM534 414h1v2h-1zM535 413h1v2h-1zM536 412h1v2h-1zM537 412h1v2h-1zM530 419h1v2h-1zM531 420h1v2h-1zM532 420h1v2h-1zM533 421h1v2h-1zM533 421h1v2h-1zM534 420h1v2h-1zM535 420h1v2h-1zM536 420h1v2h-1zM537 419h1v2h-1zM541 410h1v1h-1zM542 411h1v1h-1zM543 412h1v1h-1zM543 412h1v1h-1zM544 410h1v2h-1zM541 417h1v1h-1zM542 418h1v1h-1zM543 419h1v1h-1zM543 419h1v1h-1zM544 417h1v2h-1zM547 412h1v2h-1zM548 412h1v2h-1zM549 412h1v2h-1zM550 411h1v2h-1zM551 411h1v2h-1zM552 411h1v2h-1zM547 418h1v2h-1zM548 418h1v2h-1zM549 418h1v2h-1zM550 418h1v2h-1zM551 418h1v2h-1zM551 418h1v2h-1zM552 417h1v2h-1zM553 416h1v2h-1zM553 416h1v2h-1zM554 416h1v2h-1zM555 416h1v2h-1zM556 416h1v2h-1zM548 405h1v1h-1zM549 406h1v1h-1zM550 406h1v1h-1zM553 396h1v1h-1zM554 395h1v1h-1zM555 394h1v1h-1zM556 393h1v1h-1zM566 389h1v1h-1zM567 390h1v1h-1zM568 390h1v1h-1zM568 390h1v1h-1zM569 389h1v1h-1zM568 396h1v1h-1zM569 395h1v1h-1zM570 394h1v1h-1zM553 403h1v1h-1zM554 402h1v1h-1zM555 401h1v1h-1zM556 400h1v1h-1zM552 411h1v1h-1zM553 410h1v1h-1zM554 409h1v1h-1zM555 408h1v1h-1zM556 407h1v1h-1zM568 403h1v1h-1zM569 402h1v1h-1zM570 400h1v2h-1zM568 410h1v1h-1zM569 409h1v1h-1zM570 408h1v1h-1zM568 417h1v1h-1zM569 416h1v1h-1zM570 415h1v1h-1zM562 397h1v1h-1zM559 401h1v1h-1zM565 406h1v1h-1zM559 408h1v1h-1zM562 409h1v1h-1zM559 413h1v1h-1zM562 416h1v1h-1zM578 399h1v1h-1zM579 399h1v1h-1zM580 400h1v1h-1zM581 400h1v1h-1zM582 401h1v1h-1zM583 401h1v1h-1zM583 401h1v1h-1zM584 400h1v1h-1zM585 398h1v2h-1zM586 397h1v1h-1zM578 406h1v1h-1zM579 406h1v1h-1zM580 406h1v1h-1zM583 407h1v1h-1zM584 406h1v1h-1zM585 406h1v1h-1zM586 405h1v1h-1zM578 413h1v1h-1zM579 413h1v1h-1zM580 413h1v1h-1zM583 414h1v1h-1zM584 414h1v1h-1zM585 413h1v1h-1zM586 413h1v1h-1zM583 420h1v1h-1zM584 420h1v1h-1zM585 419h1v1h-1zM586 419h1v1h-1zM590 410h1v1h-1zM590 417h1v1h-1zM591 416h1v1h-1zM592 416h1v1h-1zM178 397h1v1h-1zM179 397h1v2h-1zM180 397h1v2h-1zM181 398h1v1h-1zM182 398h1v2h-1zM183 398h1v2h-1zM184 399h1v2h-1zM185 398h1v2h-1zM186 398h1v2h-1zM187 398h1v2h-1zM188 399h1v1h-1zM189 398h1v2h-1zM194 398h1v1h-1zM195 398h1v2h-1zM196 399h1v1h-1zM197 399h1v1h-1zM198 398h1v2h-1zM199 398h1v1h-1zM200 399h1v2h-1zM201 398h1v1h-1zM202 399h1v1h-1zM203 398h1v2h-1zM205 398h1v2h-1zM206 398h1v2h-1zM207 400h1v1h-1zM208 399h1v2h-1zM209 398h1v2h-1zM210 398h1v2h-1zM211 398h1v2h-1zM212 398h1v2h-1zM213 399h1v2h-1zM214 399h1v2h-1zM215 399h1v2h-1zM216 400h1v2h-1zM217 400h1v2h-1zM220 397h1v2h-1zM221 399h1v1h-1zM222 397h1v2h-1zM223 397h1v2h-1zM224 397h1v2h-1zM225 397h1v2h-1zM226 398h1v1h-1zM228 401h1v1h-1zM229 400h1v2h-1zM230 401h1v2h-1zM232 399h1v1h-1zM233 400h1v1h-1zM234 400h1v1h-1zM235 400h1v1h-1zM236 400h1v1h-1zM237 400h1v1h-1zM238 400h1v1h-1zM239 400h1v2h-1zM241 397h1v2h-1zM242 398h1v1h-1zM243 399h1v1h-1zM244 400h1v2h-1zM245 400h1v1h-1zM246 399h1v1h-1zM247 400h1v1h-1zM248 400h1v1h-1zM249 400h1v2h-1zM250 401h1v2h-1zM251 400h1v2h-1zM252 399h1v1h-1zM253 398h1v2h-1zM254 399h1v1h-1zM255 401h1v1h-1zM256 402h1v1h-1zM258 400h1v2h-1zM259 400h1v1h-1zM260 399h1v2h-1zM261 399h1v1h-1zM262 399h1v1h-1zM263 399h1v1h-1zM264 399h1v1h-1zM265 400h1v2h-1zM266 399h1v1h-1zM267 400h1v1h-1zM268 400h1v1h-1zM269 400h1v1h-1zM270 400h1v1h-1zM271 400h1v1h-1zM272 401h1v1h-1zM273 401h1v1h-1zM274 402h1v1h-1zM276 402h1v1h-1zM277 401h1v1h-1zM278 401h1v2h-1zM279 401h1v1h-1zM280 400h1v1h-1zM281 400h1v1h-1zM282 400h1v1h-1zM283 401h1v1h-1zM284 401h1v1h-1zM285 401h1v1h-1zM286 401h1v1h-1zM287 400h1v1h-1zM288 400h1v1h-1zM289 399h1v2h-1zM290 400h1v1h-1zM291 401h1v2h-1zM292 401h1v2h-1zM293 401h1v2h-1zM294 402h1v1h-1zM295 401h1v2h-1zM296 401h1v2h-1zM297 401h1v1h-1zM298 402h1v1h-1zM299 402h1v1h-1zM300 401h1v1h-1zM301 401h1v1h-1zM302 400h1v1h-1zM303 399h1v1h-1zM304 398h1v1h-1zM305 398h1v1h-1zM306 398h1v1h-1zM307 397h1v1h-1zM308 396h1v1h-1zM311 400h1v1h-1zM314 398h1v2h-1zM316 397h1v2h-1zM317 397h1v1h-1zM318 396h1v1h-1zM321 398h1v2h-1zM322 398h1v3h-1zM323 398h1v2h-1zM324 399h1v2h-1zM325 399h1v3h-1zM326 398h1v3h-1zM327 400h1v3h-1zM328 399h1v3h-1zM329 398h1v3h-1zM330 399h1v3h-1zM331 399h1v3h-1zM332 399h1v2h-1zM333 399h1v3h-1zM335 401h1v3h-1zM336 402h1v2h-1zM337 402h1v1h-1zM339 400h1v1h-1zM340 400h1v2h-1zM341 398h1v1h-1zM342 398h1v1h-1zM178 404h1v1h-1zM179 404h1v2h-1zM180 404h1v2h-1zM181 405h1v2h-1zM182 404h1v2h-1zM183 405h1v2h-1zM184 405h1v2h-1zM185 405h1v2h-1zM186 405h1v2h-1zM187 405h1v2h-1zM188 405h1v1h-1zM189 406h1v2h-1zM190 404h1v2h-1zM191 402h1v2h-1zM192 403h1v2h-1zM193 404h1v2h-1zM194 404h1v2h-1zM195 404h1v2h-1zM196 405h1v1h-1zM197 406h1v2h-1zM198 405h1v2h-1zM199 405h1v2h-1zM200 406h1v2h-1zM201 406h1v2h-1zM202 405h1v2h-1zM203 405h1v1h-1zM204 406h1v2h-1zM205 405h1v2h-1zM206 405h1v2h-1zM207 405h1v2h-1zM208 406h1v2h-1zM209 405h1v2h-1zM210 405h1v2h-1zM211 405h1v2h-1zM212 405h1v1h-1zM213 405h1v2h-1zM214 406h1v2h-1zM215 406h1v2h-1zM216 407h1v1h-1zM217 406h1v2h-1zM220 404h1v2h-1zM221 404h1v2h-1zM222 404h1v2h-1zM223 404h1v2h-1zM224 403h1v2h-1zM225 404h1v2h-1zM226 405h1v2h-1zM228 408h1v1h-1zM229 407h1v2h-1zM230 408h1v2h-1zM232 407h1v1h-1zM233 407h1v1h-1zM234 406h1v1h-1zM235 407h1v1h-1zM236 408h1v1h-1zM237 408h1v2h-1zM238 407h1v2h-1zM239 408h1v2h-1zM241 404h1v1h-1zM242 405h1v2h-1zM243 407h1v1h-1zM245 408h1v1h-1zM246 407h1v1h-1zM247 407h1v1h-1zM248 406h1v1h-1zM249 407h1v1h-1zM250 407h1v1h-1zM251 407h1v1h-1zM252 407h1v1h-1zM253 406h1v1h-1zM254 407h1v1h-1zM255 408h1v1h-1zM256 408h1v1h-1zM257 408h1v1h-1zM259 406h1v2h-1zM260 407h1v1h-1zM261 406h1v1h-1zM262 406h1v1h-1zM263 406h1v1h-1zM264 406h1v1h-1zM265 406h1v1h-1zM266 406h1v1h-1zM267 406h1v2h-1zM268 406h1v1h-1zM269 407h1v1h-1zM270 408h1v1h-1zM271 407h1v2h-1zM272 407h1v2h-1zM273 408h1v2h-1zM274 408h1v1h-1zM275 408h1v1h-1zM277 408h1v1h-1zM278 408h1v1h-1zM279 408h1v1h-1zM280 408h1v1h-1zM281 408h1v1h-1zM282 407h1v1h-1zM283 408h1v1h-1zM285 408h1v1h-1zM286 408h1v1h-1zM287 407h1v1h-1zM288 406h1v2h-1zM289 407h1v1h-1zM290 407h1v1h-1zM291 407h1v1h-1zM292 407h1v1h-1zM293 408h1v1h-1zM294 408h1v1h-1zM295 407h1v1h-1zM296 407h1v2h-1zM297 408h1v2h-1zM298 408h1v2h-1zM299 410h1v1h-1zM300 409h1v2h-1zM301 408h1v2h-1zM303 406h1v1h-1zM304 406h1v1h-1zM305 404h1v2h-1zM306 404h1v1h-1zM308 404h1v1h-1zM311 406h1v1h-1zM312 406h1v1h-1zM313 406h1v1h-1zM314 405h1v1h-1zM315 404h1v2h-1zM316 404h1v2h-1zM317 404h1v1h-1zM318 403h1v1h-1zM321 405h1v3h-1zM322 405h1v3h-1zM323 406h1v3h-1zM324 405h1v3h-1zM325 406h1v3h-1zM326 406h1v1h-1zM327 406h1v2h-1zM329 407h1v3h-1zM330 406h1v2h-1zM331 406h1v2h-1zM332 407h1v1h-1zM333 406h1v1h-1zM334 406h1v1h-1zM335 408h1v2h-1zM336 410h1v2h-1zM337 408h1v2h-1zM338 408h1v1h-1zM339 408h1v2h-1zM340 406h1v1h-1zM341 406h1v1h-1zM342 406h1v1h-1zM343 406h1v2h-1zM178 411h1v2h-1zM179 410h1v1h-1zM180 412h1v2h-1zM181 411h1v1h-1zM182 412h1v2h-1zM183 411h1v2h-1zM184 412h1v1h-1zM185 412h1v2h-1zM186 412h1v2h-1zM187 413h1v1h-1zM188 411h1v2h-1zM189 412h1v2h-1zM190 411h1v2h-1zM191 410h1v2h-1zM192 410h1v2h-1zM193 411h1v2h-1zM194 412h1v2h-1zM195 413h1v1h-1zM196 411h1v2h-1zM197 412h1v2h-1zM198 412h1v2h-1zM199 413h1v1h-1zM200 412h1v1h-1zM201 412h1v1h-1zM202 413h1v1h-1zM203 411h1v2h-1zM204 413h1v1h-1zM205 413h1v1h-1zM206 413h1v2h-1zM207 412h1v2h-1zM208 413h1v1h-1zM209 413h1v2h-1zM210 413h1v1h-1zM211 412h1v1h-1zM212 413h1v2h-1zM213 413h1v2h-1zM214 413h1v2h-1zM215 413h1v2h-1zM216 413h1v2h-1zM217 415h1v1h-1zM220 412h1v2h-1zM221 412h1v1h-1zM222 411h1v2h-1zM223 410h1v2h-1zM224 410h1v2h-1zM225 411h1v2h-1zM227 413h1v2h-1zM228 415h1v1h-1zM229 414h1v2h-1zM230 415h1v1h-1zM232 414h1v1h-1zM233 414h1v1h-1zM234 414h1v1h-1zM235 414h1v1h-1zM236 414h1v1h-1zM239 415h1v1h-1zM241 410h1v1h-1zM242 412h1v1h-1zM243 412h1v2h-1zM244 414h1v1h-1zM245 413h1v1h-1zM246 413h1v1h-1zM247 413h1v1h-1zM248 414h1v1h-1zM249 413h1v1h-1zM250 415h1v1h-1zM251 414h1v2h-1zM252 414h1v1h-1zM253 413h1v1h-1zM254 414h1v1h-1zM255 414h1v1h-1zM256 415h1v1h-1zM257 414h1v1h-1zM258 415h1v1h-1zM259 413h1v2h-1zM260 414h1v2h-1zM261 413h1v1h-1zM262 413h1v1h-1zM263 413h1v1h-1zM264 413h1v1h-1zM265 413h1v1h-1zM266 413h1v2h-1zM267 413h1v1h-1zM268 413h1v1h-1zM269 414h1v1h-1zM270 414h1v1h-1zM271 414h1v2h-1zM272 414h1v1h-1zM273 415h1v1h-1zM274 414h1v1h-1zM275 416h1v2h-1zM277 415h1v1h-1zM278 415h1v1h-1zM279 415h1v1h-1zM280 414h1v1h-1zM281 414h1v1h-1zM282 414h1v1h-1zM283 414h1v1h-1zM285 415h1v1h-1zM286 414h1v1h-1zM287 414h1v1h-1zM288 413h1v2h-1zM289 414h1v1h-1zM291 414h1v1h-1zM292 415h1v1h-1zM293 415h1v1h-1zM294 415h1v1h-1zM295 415h1v1h-1zM296 414h1v2h-1zM298 415h1v1h-1zM299 415h1v1h-1zM300 416h1v2h-1zM301 414h1v2h-1zM302 414h1v1h-1zM303 414h1v1h-1zM304 412h1v1h-1zM305 412h1v1h-1zM306 411h1v2h-1zM307 411h1v1h-1zM308 410h1v1h-1zM311 414h1v1h-1zM312 413h1v1h-1zM313 412h1v1h-1zM314 412h1v1h-1zM315 411h1v1h-1zM316 411h1v1h-1zM317 410h1v1h-1zM321 412h1v3h-1zM322 412h1v3h-1zM323 412h1v2h-1zM324 414h1v1h-1zM325 413h1v2h-1zM327 413h1v3h-1zM328 413h1v2h-1zM329 413h1v3h-1zM330 413h1v3h-1zM331 412h1v3h-1zM332 413h1v1h-1zM333 413h1v3h-1zM334 414h1v1h-1zM335 415h1v2h-1zM336 416h1v2h-1zM337 415h1v1h-1zM338 415h1v2h-1zM339 414h1v1h-1zM340 414h1v1h-1zM342 413h1v1h-1zM343 411h1v2h-1zM178 418h1v2h-1zM179 418h1v2h-1zM180 417h1v2h-1zM181 419h1v1h-1zM182 418h1v2h-1zM183 418h1v1h-1zM184 418h1v2h-1zM185 419h1v1h-1zM186 419h1v2h-1zM187 419h1v2h-1zM188 420h1v1h-1zM189 418h1v2h-1zM190 417h1v1h-1zM191 418h1v1h-1zM192 417h1v2h-1zM193 417h1v1h-1zM194 418h1v2h-1zM195 419h1v1h-1zM196 419h1v1h-1zM197 418h1v2h-1zM198 419h1v2h-1zM199 418h1v2h-1zM200 418h1v2h-1zM201 419h1v2h-1zM202 419h1v2h-1zM203 419h1v2h-1zM204 419h1v1h-1zM205 420h1v1h-1zM206 419h1v2h-1zM207 418h1v2h-1zM208 418h1v2h-1zM209 420h1v1h-1zM211 419h1v2h-1zM212 418h1v2h-1zM213 419h1v2h-1zM214 420h1v2h-1zM215 419h1v2h-1zM216 421h1v2h-1zM217 420h1v2h-1zM220 418h1v2h-1zM221 418h1v2h-1zM222 418h1v2h-1zM223 418h1v1h-1zM225 418h1v2h-1zM226 419h1v2h-1zM227 421h1v1h-1zM228 421h1v1h-1zM229 420h1v2h-1zM230 421h1v1h-1zM234 420h1v1h-1zM236 421h1v2h-1zM239 422h1v2h-1zM241 417h1v2h-1zM242 418h1v1h-1zM243 419h1v1h-1zM246 421h1v2h-1zM247 420h1v1h-1zM249 420h1v1h-1zM252 420h1v1h-1zM254 420h1v1h-1zM255 421h1v1h-1zM257 421h1v1h-1zM259 421h1v1h-1zM263 419h1v2h-1zM266 419h1v1h-1zM269 421h1v1h-1zM271 420h1v2h-1zM272 421h1v1h-1zM273 421h1v1h-1zM275 421h1v1h-1zM277 422h1v2h-1zM281 422h1v1h-1zM284 421h1v2h-1zM285 421h1v1h-1zM287 420h1v1h-1zM289 420h1v1h-1zM293 422h1v1h-1zM295 422h1v1h-1zM296 420h1v2h-1zM298 422h1v1h-1zM303 419h1v1h-1zM304 419h1v1h-1zM305 418h1v1h-1zM307 417h1v1h-1zM312 419h1v2h-1zM315 418h1v1h-1zM316 418h1v1h-1zM317 418h1v1h-1zM321 418h1v2h-1zM322 418h1v2h-1zM323 419h1v2h-1zM324 420h1v2h-1zM325 420h1v2h-1zM326 420h1v2h-1zM327 419h1v2h-1zM328 420h1v2h-1zM329 419h1v1h-1zM330 420h1v2h-1zM331 420h1v2h-1zM332 420h1v2h-1zM333 420h1v2h-1zM334 420h1v2h-1zM335 422h1v2h-1zM336 422h1v2h-1zM337 422h1v1h-1zM338 421h1v1h-1zM339 421h1v1h-1zM340 420h1v2h-1zM341 420h1v1h-1zM342 419h1v1h-1zM343 418h1v1h-1zM408 403h1v1h-1zM410 401h1v2h-1zM411 401h1v1h-1zM412 402h1v2h-1zM413 403h1v2h-1zM414 404h1v2h-1zM415 404h1v2h-1zM420 401h1v2h-1zM421 403h1v2h-1zM422 404h1v2h-1zM423 403h1v2h-1zM424 403h1v2h-1zM425 403h1v2h-1zM427 403h1v1h-1zM428 403h1v1h-1zM429 404h1v2h-1zM430 403h1v2h-1zM431 403h1v2h-1zM432 404h1v2h-1zM433 403h1v2h-1zM434 403h1v2h-1zM436 404h1v1h-1zM437 404h1v2h-1zM438 404h1v2h-1zM439 403h1v2h-1zM440 404h1v2h-1zM441 404h1v2h-1zM443 405h1v2h-1zM446 403h1v1h-1zM447 402h1v2h-1zM452 402h1v2h-1zM453 402h1v1h-1zM454 402h1v2h-1zM455 403h1v1h-1zM456 402h1v2h-1zM458 402h1v2h-1zM459 403h1v2h-1zM460 403h1v1h-1zM461 403h1v2h-1zM462 404h1v2h-1zM463 403h1v2h-1zM464 404h1v2h-1zM465 404h1v2h-1zM466 405h1v2h-1zM467 405h1v2h-1zM468 405h1v1h-1zM469 404h1v2h-1zM470 404h1v1h-1zM471 403h1v2h-1zM472 403h1v2h-1zM473 403h1v1h-1zM474 403h1v2h-1zM475 404h1v2h-1zM476 403h1v1h-1zM477 403h1v2h-1zM478 403h1v1h-1zM479 403h1v2h-1zM480 402h1v1h-1zM482 403h1v1h-1zM483 403h1v1h-1zM484 404h1v2h-1zM485 404h1v2h-1zM487 405h1v2h-1zM488 403h1v1h-1zM489 403h1v1h-1zM491 403h1v1h-1zM492 405h1v2h-1zM498 400h1v2h-1zM499 400h1v2h-1zM500 400h1v2h-1zM408 411h1v1h-1zM409 409h1v1h-1zM410 408h1v2h-1zM411 408h1v2h-1zM412 409h1v2h-1zM413 411h1v1h-1zM414 411h1v2h-1zM415 411h1v2h-1zM419 409h1v1h-1zM420 408h1v2h-1zM421 409h1v1h-1zM422 410h1v2h-1zM423 412h1v1h-1zM424 410h1v2h-1zM425 411h1v2h-1zM426 410h1v2h-1zM427 410h1v2h-1zM428 411h1v1h-1zM429 410h1v1h-1zM430 410h1v2h-1zM431 411h1v2h-1zM432 410h1v2h-1zM433 411h1v2h-1zM434 412h1v1h-1zM435 411h1v2h-1zM436 411h1v2h-1zM437 410h1v2h-1zM438 412h1v1h-1zM440 412h1v2h-1zM441 411h1v2h-1zM442 412h1v2h-1zM443 412h1v2h-1zM444 412h1v2h-1zM445 412h1v1h-1zM446 410h1v2h-1zM447 410h1v1h-1zM449 406h1v2h-1zM450 408h1v1h-1zM451 408h1v2h-1zM452 410h1v1h-1zM453 409h1v2h-1zM454 409h1v1h-1zM455 410h1v2h-1zM456 409h1v2h-1zM457 409h1v2h-1zM458 409h1v2h-1zM459 410h1v2h-1zM460 410h1v1h-1zM461 411h1v1h-1zM462 411h1v2h-1zM463 410h1v2h-1zM465 412h1v2h-1zM466 412h1v2h-1zM467 413h1v2h-1zM468 413h1v1h-1zM469 412h1v2h-1zM470 411h1v2h-1zM471 410h1v2h-1zM472 411h1v2h-1zM473 410h1v2h-1zM475 411h1v2h-1zM476 410h1v1h-1zM477 411h1v1h-1zM478 410h1v2h-1zM479 410h1v2h-1zM480 409h1v2h-1zM481 410h1v2h-1zM482 410h1v2h-1zM483 411h1v1h-1zM484 410h1v1h-1zM485 411h1v2h-1zM486 412h1v2h-1zM487 411h1v2h-1zM488 411h1v1h-1zM489 410h1v1h-1zM490 410h1v1h-1zM491 412h1v1h-1zM492 412h1v1h-1zM495 409h1v1h-1zM496 408h1v2h-1zM497 408h1v2h-1zM498 407h1v2h-1zM499 407h1v2h-1zM500 408h1v2h-1zM408 416h1v2h-1zM409 415h1v2h-1zM410 415h1v2h-1zM411 415h1v1h-1zM412 416h1v2h-1zM413 417h1v2h-1zM414 417h1v1h-1zM415 418h1v2h-1zM420 415h1v2h-1zM421 416h1v2h-1zM422 418h1v1h-1zM423 417h1v2h-1zM424 418h1v2h-1zM426 417h1v2h-1zM427 417h1v2h-1zM428 418h1v1h-1zM429 418h1v1h-1zM430 417h1v2h-1zM431 418h1v1h-1zM432 417h1v2h-1zM433 418h1v2h-1zM434 417h1v2h-1zM435 417h1v1h-1zM436 418h1v2h-1zM437 417h1v2h-1zM438 418h1v2h-1zM439 418h1v2h-1zM440 418h1v2h-1zM441 418h1v2h-1zM442 419h1v2h-1zM443 419h1v1h-1zM444 419h1v1h-1zM445 418h1v2h-1zM446 417h1v2h-1zM447 417h1v2h-1zM449 413h1v2h-1zM450 414h1v2h-1zM451 416h1v1h-1zM452 415h1v2h-1zM454 416h1v2h-1zM455 416h1v2h-1zM456 417h1v1h-1zM457 416h1v1h-1zM458 416h1v2h-1zM459 418h1v1h-1zM460 416h1v2h-1zM461 417h1v2h-1zM462 417h1v2h-1zM463 418h1v2h-1zM464 417h1v2h-1zM465 419h1v2h-1zM466 420h1v1h-1zM467 419h1v2h-1zM468 419h1v1h-1zM469 418h1v2h-1zM470 417h1v2h-1zM471 417h1v2h-1zM472 417h1v1h-1zM473 417h1v2h-1zM474 417h1v2h-1zM475 417h1v2h-1zM476 417h1v2h-1zM477 416h1v2h-1zM478 417h1v2h-1zM479 417h1v2h-1zM480 417h1v2h-1zM481 416h1v2h-1zM482 416h1v2h-1zM483 417h1v2h-1zM484 417h1v2h-1zM485 418h1v2h-1zM486 419h1v1h-1zM487 418h1v2h-1zM488 417h1v2h-1zM489 417h1v2h-1zM490 416h1v1h-1zM491 417h1v2h-1zM492 418h1v1h-1zM495 415h1v2h-1zM496 415h1v2h-1zM497 414h1v2h-1zM498 414h1v1h-1zM499 414h1v2h-1zM500 414h1v2h-1zM593 402h1v1h-1zM594 402h1v1h-1zM595 401h1v3h-1zM596 401h1v3h-1zM597 401h1v3h-1zM598 401h1v3h-1zM599 401h1v3h-1zM600 401h1v3h-1zM601 401h1v2h-1zM602 402h1v2h-1zM603 401h1v3h-1zM604 401h1v3h-1zM605 401h1v3h-1zM606 401h1v3h-1zM607 401h1v3h-1zM608 401h1v3h-1zM609 402h1v1h-1zM610 402h1v2h-1zM611 401h1v2h-1zM612 401h1v3h-1zM613 402h1v1h-1zM614 400h1v5h-1zM615 399h1v7h-1zM616 399h1v7h-1zM593 409h1v1h-1zM594 409h1v1h-1zM595 408h1v2h-1zM596 408h1v2h-1zM597 409h1v2h-1zM598 408h1v3h-1zM599 408h1v2h-1zM600 409h1v1h-1zM601 408h1v2h-1zM602 408h1v3h-1zM603 409h1v1h-1zM604 408h1v2h-1zM605 408h1v3h-1zM606 409h1v2h-1zM607 408h1v3h-1zM608 408h1v3h-1zM609 408h1v3h-1zM610 408h1v2h-1zM611 409h1v2h-1zM612 408h1v3h-1zM613 408h1v3h-1zM614 407h1v5h-1zM615 406h1v7h-1zM616 406h1v7h-1zM593 416h1v1h-1zM594 416h1v1h-1zM595 415h1v3h-1zM596 415h1v2h-1zM597 415h1v2h-1zM598 415h1v2h-1zM599 415h1v3h-1zM600 415h1v3h-1zM601 416h1v1h-1zM602 415h1v3h-1zM603 415h1v2h-1zM604 416h1v2h-1zM605 416h1v2h-1zM606 415h1v2h-1zM607 416h1v2h-1zM608 415h1v2h-1zM609 416h1v1h-1zM610 415h1v2h-1zM611 415h1v3h-1zM612 415h1v2h-1zM613 415h1v3h-1zM614 414h1v5h-1zM615 413h1v7h-1zM616 413h1v7h-1zM572 409h1v15h-1zM575 419h1v6h-1zM576 420h1v5h-1z"/>
<rect x="512" y="57" width="108" height="14" fill="#fff"/>
<path fill="#9400d3" shape-rendering="crispEdges" d="M595.5 61l2.5 2.5l-2.5 2.5l-2.5-2.5z"/>
<g stroke="#000" stroke-width="1" shape-rendering="crispEdges" fill="none">
<rect x="64.5" y="52.5" width="557" height="373"/>
</g>
<text class="m" transform="translate(342 25) scale(1 1.2)" x="-57.6 -51.6 -45.6 -39.6 -33.6 -27.6 -21.6 -15.6 -9.6 -3.6 2.4 8.4 14.4 20.4 26.4 32.4 38.4 44.4 50.4 56.4" y="0" text-anchor="middle">Fifo filling for MEX</text>
<text class="m" transform="translate(342 38) scale(1 1.2)" x="-69.6 -63.6 -57.6 -51.6 -45.6 -39.6 -33.6 -27.6 -21.6 -15.6 -9.6 -3.6 2.4 8.4 14.4 20.4 26.4 32.4 38.4 44.4 50.4 56.4 62.4 68.4" y="0" text-anchor="middle">E_RT<tspan class="s">20260314015543</tspan>.sfduZ</text>
<text class="s" transform="translate(58 430) scale(1 1.2)" x="-3.6" y="0" text-anchor="middle">0</text>
<text class="s" transform="translate(58 377) scale(1 1.2)" x="-27.6 -21.6 -15.6 -9.6 -3.6" y="0" text-anchor="middle">10000</text>
<text class="s" transform="translate(58 323) scale(1 1.2)" x="-27.6 -21.6 -15.6 -9.6 -3.6" y="0" text-anchor="middle">20000</text>
<text class="s" transform="translate(58 270) scale(1 1.2)" x="-27.6 -21.6 -15.6 -9.6 -3.6" y="0" text-anchor="middle">30000</text>
<text class="s" transform="translate(58 217) scale(1 1.2)" x="-27.6 -21.6 -15.6 -9.6 -3.6" y="0" text-anchor="middle">40000</text>
<text class="s" transform="translate(58 164) scale(1 1.2)" x="-27.6 -21.6 -15.6 -9.6 -3.6" y="0" text-anchor="middle">50000</text>
<text class="s" transform="translate(58 110) scale(1 1.2)" x="-27.6 -21.6 -15.6 -9.6 -3.6" y="0" text-anchor="middle">60000</text>
<text class="s" transform="translate(58 57) scale(1 1.2)" x="-27.6 -21.6 -15.6 -9.6 -3.6" y="0" text-anchor="middle">70000</text>
<text class="s" transform="translate(64 443) scale(1 1.2)" x="-15.6 -9.6 -3.6 2.4 8.4 14.4" y="0" text-anchor="middle">260314</text>
<text class="s" transform="translate(64 456) scale(1 1.2)" x="-12.6 -6.6 -0.6 5.4 11.4" y="0" text-anchor="middle">02:00</text>
<text class="s" transform="translate(120 443) scale(1 1.2)" x="-15.6 -9.6 -3.6 2.4 8.4 14.4" y="0" text-anchor="middle">260314</text>
<text class="s" transform="translate(120 456) scale(1 1.2)" x="-12.6 -6.6 -0.6 5.4 11.4" y="0" text-anchor="middle">04:00</text>
<text class="s" transform="translate(175 443) scale(1 1.2)" x="-15.6 -9.6 -3.6 2.4 8.4 14.4" y="0" text-anchor="middle">260314</text>
<text class="s" transform="translate(175 456) scale(1 1.2)" x="-12.6 -6.6 -0.6 5.4 11.4" y="0" text-anchor="middle">06:00</text>
<text class="s" transform="translate(231 443) scale(1 1.2)" x="-15.6 -9.6 -3.6 2.4 8.4 14.4" y="0" text-anchor="middle">260314</text>
<text class="s" transform="translate(231 456) scale(1 1.2)" x="-12.6 -6.6 -0.6 5.4 11.4" y="0" text-anchor="middle">08:00</text>
<text class="s" transform="translate(287 443) scale(1 1.2)" x="-15.6 -9.6 -3.6 2.4 8.4 14.4" y="0" text-anchor="middle">260314</text>
<text class="s" transform="translate(287 456) scale(1 1.2)" x="-12.6 -6.6 -0.6 5.4 11.4" y="0" text-anchor="middle">10:00</text>
<text class="s" transform="translate(343 443) scale(1 1.2)" x="-15.6 -9.6 -3.6 2.4 8.4 14.4" y="0" text-anchor="middle">260314</text>
<text class="s" transform="translate(343 456) scale(1 1.2)" x="-12.6 -6.6 -0.6 5.4 11.4" y="0" text-anchor="middle">12:00</text>
<text class="s" transform="translate(398 443) scale(1 1.2)" x="-15.6 -9.6 -3.6 2.4 8.4 14.4" y="0" text-anchor="middle">260314</text>
<text class="s" transform="translate(398 456) scale(1 1.2)" x="-12.6 -6.6 -0.6 5.4 11.4" y="0" text-anchor="middle">14:00</text>
<text class="s" transform="translate(454 443) scale(1 1.2)" x="-15.6 -9.6 -3.6 2.4 8.4 14.4" y="0" text-anchor="middle">260314</text>
<text class="s" transform="translate(454 456) scale(1 1.2)" x="-12.6 -6.6 -0.6 5.4 11.4" y="0" text-anchor="middle">16:00</text>
<text class="s" transform="translate(510 443) scale(1 1.2)" x="-15.6 -9.6 -3.6 2.4 8.4 14.4" y="0" text-anchor="middle">260314</text>
<text class="s" transform="translate(510 456) scale(1 1.2)" x="-12.6 -6.6 -0.6 5.4 11.4" y="0" text-anchor="middle">18:00</text>
<text class="s" transform="translate(565 443) scale(1 1.2)" x="-15.6 -9.6 -3.6 2.4 8.4 14.4" y="0" text-anchor="middle">260314</text>
<text class="s" transform="translate(565 456) scale(1 1.2)" x="-12.6 -6.6 -0.6 5.4 11.4" y="0" text-anchor="middle">20:00</text>
<text class="s" transform="translate(621 443) scale(1 1.2)" x="-15.6 -9.6 -3.6 2.4 8.4 14.4" y="0" text-anchor="middle">260314</text>
<text class="s" transform="translate(621 456) scale(1 1.2)" x="-12.6 -6.6 -0.6 5.4 11.4" y="0" text-anchor="middle">22:00</text>
<text class="m" transform="translate(342 475) scale(1 1.2)" x="-54.6 -48.6 -42.6 -36.6 -30.6 -24.6 -18.6 -12.6 -6.6 -0.6 5.4 11.4 17.4 23.4 29.4 35.4 41.4 47.4 53.4" y="0" text-anchor="middle">Time (yymmdd HH<tspan class="s">:</tspan>MM)</text>
<text class="m" transform="translate(17 240) rotate(-90) scale(1 1.2)" x="-12.6 -6.6 -0.6 5.4 11.4" y="0" text-anchor="middle">count</text>
<text class="m" transform="translate(574 68) scale(1 1.2)" x="-57.6 -51.6 -45.6 -39.6 -33.6 -27.6 -21.6 -15.6 -9.6 -3.6" y="0" text-anchor="middle">Fifo count</text>
</svg></body></html>
